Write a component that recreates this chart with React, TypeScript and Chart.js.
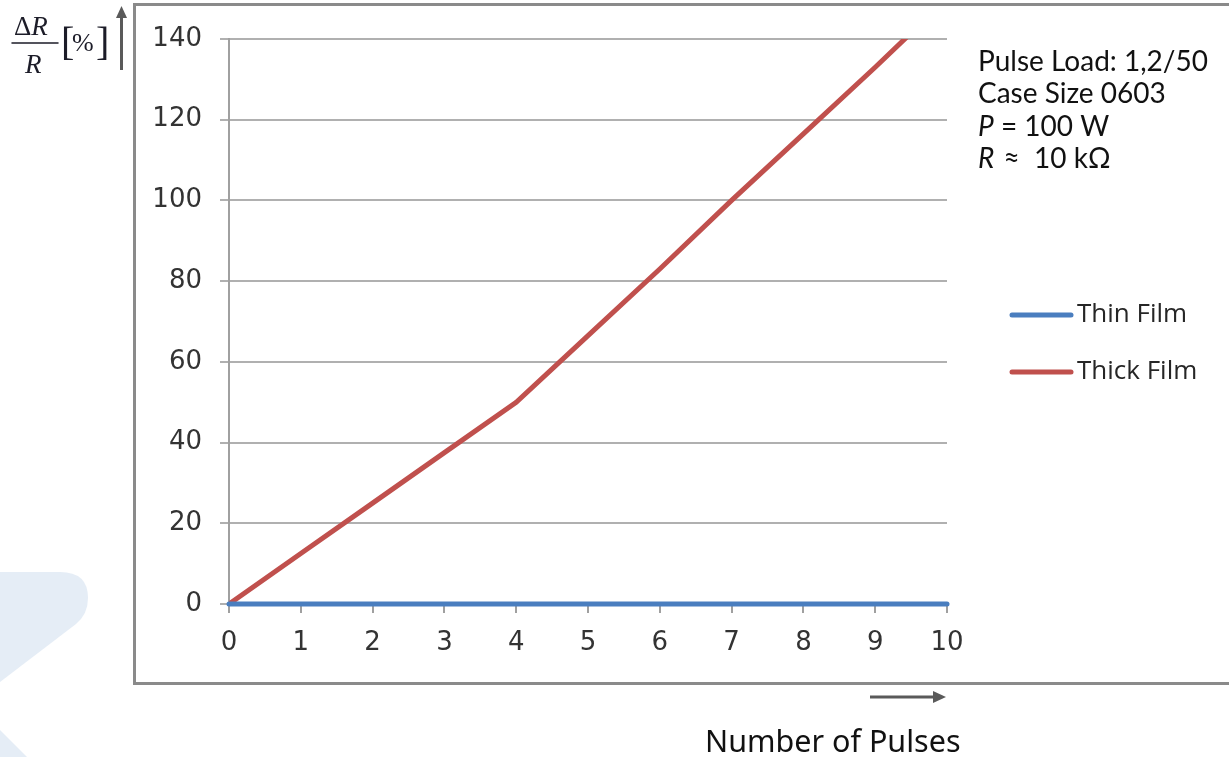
import React, { useEffect, useRef } from 'react';
import { Chart, registerables } from 'chart.js';

Chart.register(...registerables);

// ---- data ----
const pulses = [0, 1, 2, 3, 4, 5, 6, 7, 8, 9, 10];
const thinFilm = [0, 0, 0, 0, 0, 0, 0, 0, 0, 0, 0];
const thickFilm = [0, 12.5, 25, 37.5, 50, 66.5, 83, 100, 116.5, 133, 150];
const seriesNames = ['Thin Film', 'Thick Film'];
const seriesColors = ['#4a7ebf', '#c0504d'];
const yMin = 0;
const yMax = 140;
const yStep = 20;
const xMin = 0;
const xMax = 10;
const xTitle = 'Number of Pulses';
const noteLine1 = 'Pulse Load: 1,2/50';
const noteLine2 = 'Case Size 0603';
const noteP = ['P', ' = 100 W'];
const noteR = ['R', ' \u2248  10 k\u03A9'];

const W = 1229;
const H = 757;

const decorPlugin = {
  id: 'decor',
  beforeDraw(chart: any) {
    const ctx = chart.ctx as CanvasRenderingContext2D;
    ctx.save();
    ctx.fillStyle = '#ffffff';
    ctx.fillRect(0, 0, W, H);
    // watermark
    ctx.fillStyle = '#e5edf6';
    ctx.beginPath();
    ctx.moveTo(0, 572);
    ctx.lineTo(60, 572);
    ctx.quadraticCurveTo(88, 572, 88, 598);
    ctx.quadraticCurveTo(88, 614, 76, 624);
    ctx.lineTo(0, 682);
    ctx.closePath();
    ctx.fill();
    ctx.beginPath();
    ctx.moveTo(0, 730);
    ctx.lineTo(27, 757);
    ctx.lineTo(0, 757);
    ctx.closePath();
    ctx.fill();
    // outer frame
    ctx.strokeStyle = '#8a8a8a';
    ctx.lineWidth = 3;
    ctx.beginPath();
    ctx.moveTo(W + 5, 4.5);
    ctx.lineTo(134.5, 4.5);
    ctx.lineTo(134.5, 683.5);
    ctx.lineTo(W + 5, 683.5);
    ctx.stroke();
    ctx.restore();
  },
  afterDraw(chart: any) {
    const ctx = chart.ctx as CanvasRenderingContext2D;
    ctx.save();
    // legend
    const legY = [315, 372];
    chart.data.datasets.forEach((ds: any, i: number) => {
      ctx.strokeStyle = ds.borderColor;
      ctx.lineWidth = 5;
      ctx.lineCap = 'round';
      ctx.beginPath();
      ctx.moveTo(1012, legY[i]);
      ctx.lineTo(1071, legY[i]);
      ctx.stroke();
      ctx.fillStyle = '#262626';
      ctx.font = '26px "Open Sans"';
      ctx.textAlign = 'left';
      ctx.textBaseline = 'middle';
      ctx.fillText(ds.label, 1077, legY[i]);
    });

    // annotation
    ctx.fillStyle = '#111111';
    ctx.textBaseline = 'alphabetic';
    ctx.textAlign = 'left';
    ctx.font = '28px Lato';
    ctx.fillText(noteLine1, 978, 71);
    ctx.fillText(noteLine2, 978, 103);
    ctx.font = 'italic 28px Lato';
    ctx.fillText(noteP[0], 978, 136);
    let w = ctx.measureText(noteP[0]).width;
    ctx.font = '28px Lato';
    ctx.fillText(noteP[1], 978 + w, 136);
    ctx.font = 'italic 28px Lato';
    ctx.fillText(noteR[0], 978, 168);
    w = ctx.measureText(noteR[0]).width;
    ctx.font = '28px Lato';
    ctx.fillText(noteR[1], 978 + w + 2, 168);

    // y label: ΔR / R [%]
    ctx.fillStyle = '#1c1c28';
    ctx.font = '27px "Liberation Serif"';
    ctx.fillText('\u0394', 14, 35);
    const dw = ctx.measureText('\u0394').width;
    ctx.font = 'italic 27px "Liberation Serif"';
    ctx.fillText('R', 14 + dw, 35);
    ctx.fillText('R', 25, 73);
    ctx.strokeStyle = '#1c1c28';
    ctx.lineWidth = 1.5;
    ctx.beginPath();
    ctx.moveTo(12, 43);
    ctx.lineTo(58, 43);
    ctx.stroke();
    ctx.font = '40px "Liberation Serif"';
    ctx.fillText('[', 61, 55);
    ctx.fillText(']', 96, 55);
    ctx.font = '26px "Liberation Serif"';
    ctx.fillText('%', 72, 51);

    // up arrow
    ctx.strokeStyle = '#5a5a5a';
    ctx.fillStyle = '#5a5a5a';
    ctx.lineWidth = 3;
    ctx.lineCap = 'butt';
    ctx.beginPath();
    ctx.moveTo(121.5, 70);
    ctx.lineTo(121.5, 16);
    ctx.stroke();
    ctx.beginPath();
    ctx.moveTo(121.5, 6);
    ctx.lineTo(127, 18);
    ctx.lineTo(116, 18);
    ctx.closePath();
    ctx.fill();

    // right arrow
    ctx.beginPath();
    ctx.moveTo(870, 697);
    ctx.lineTo(934, 697);
    ctx.stroke();
    ctx.beginPath();
    ctx.moveTo(946, 697);
    ctx.lineTo(933, 691);
    ctx.lineTo(933, 703);
    ctx.closePath();
    ctx.fill();

    // x title
    ctx.fillStyle = '#111111';
    ctx.font = '30.5px "Noto Sans"';
    ctx.textAlign = 'left';
    ctx.textBaseline = 'alphabetic';
    ctx.fillText(xTitle, 705, 752);
    ctx.restore();
  },
};

export default function App() {
  const ref = useRef<HTMLCanvasElement | null>(null);
  useEffect(() => {
    if (!ref.current) return;
    const chart = new Chart(ref.current, {
      type: 'line',
      data: {
        datasets: [
          {
            label: seriesNames[0],
            data: pulses.map((x, i) => ({ x, y: thinFilm[i] })),
            borderColor: seriesColors[0],
            backgroundColor: seriesColors[0],
            borderWidth: 5,
            pointRadius: 0,
            tension: 0,
            borderCapStyle: 'round',
            clip: 6,
          },
          {
            label: seriesNames[1],
            data: pulses.map((x, i) => ({ x, y: thickFilm[i] })),
            borderColor: seriesColors[1],
            backgroundColor: seriesColors[1],
            borderWidth: 5,
            pointRadius: 0,
            tension: 0,
            borderCapStyle: 'round',
          },
        ],
      },
      options: {
        responsive: false,
        animation: false,
        layout: { padding: { left: 140, top: 39, right: 282, bottom: 93 } },
        plugins: { legend: { display: false }, tooltip: { enabled: false } },
        scales: {
          x: {
            type: 'linear',
            min: xMin,
            max: xMax,
            afterFit: (s: any) => { s.height = 60; },
            ticks: { stepSize: 1, color: '#333333', font: { family: "'DejaVu Sans'", size: 26 }, padding: 15, maxRotation: 0 },
            grid: { drawOnChartArea: false, drawTicks: true, tickLength: 9, color: '#a0a0a0', lineWidth: 2 },
            border: { display: true, color: '#a0a0a0', width: 2 },
          },
          y: {
            min: yMin,
            max: yMax,
            afterFit: (s: any) => { s.width = 89; },
            ticks: { stepSize: yStep, color: '#333333', font: { family: "'DejaVu Sans'", size: 26 }, padding: 18 },
            grid: { drawOnChartArea: true, drawTicks: true, tickLength: 9, color: '#b0b0b0', lineWidth: 2 },
            border: { display: true, color: '#a0a0a0', width: 2 },
          },
        },
      },
      plugins: [decorPlugin],
    } as any);
    return () => chart.destroy();
  }, []);
  return (
    <div style={{ position: 'absolute', left: 0, top: 0, width: W, height: H }}>
      <canvas ref={ref} width={W} height={H} style={{ width: W, height: H, display: 'block' }} />
    </div>
  );
}
